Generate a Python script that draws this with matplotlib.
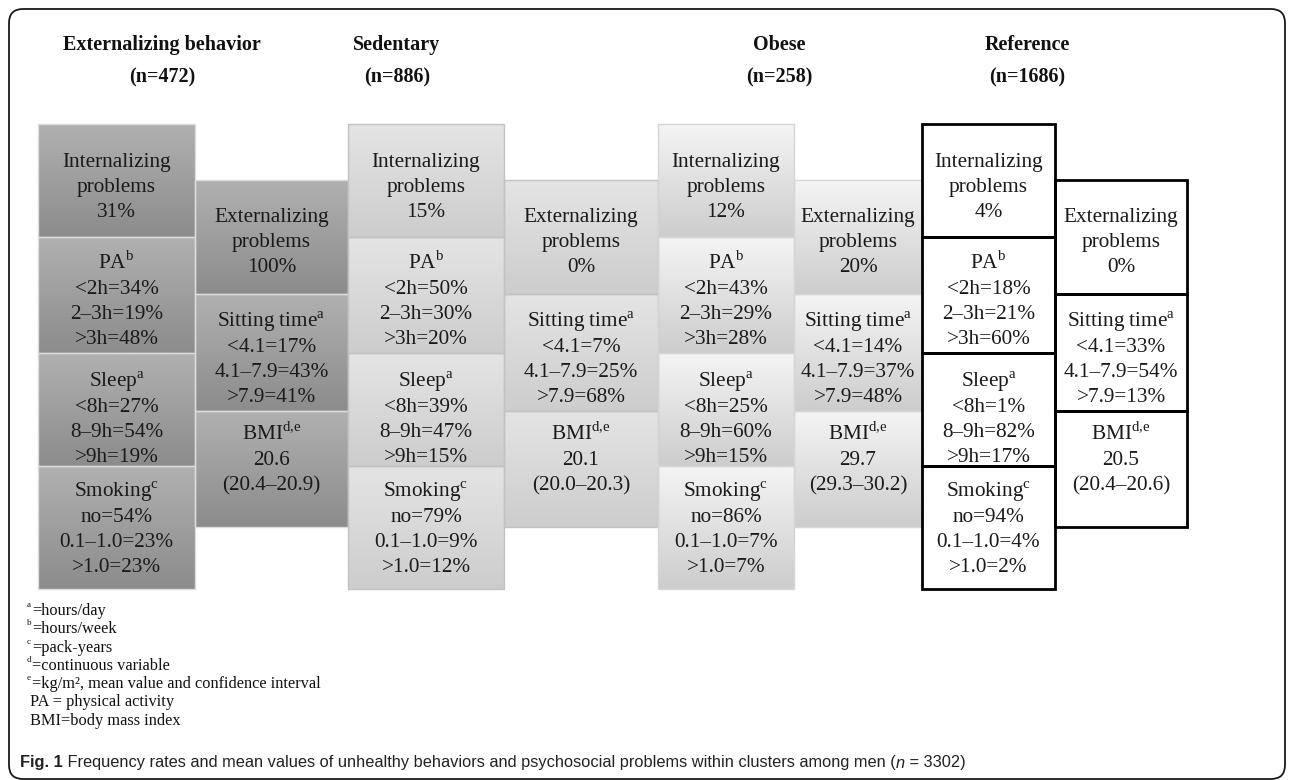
import numpy as np
import matplotlib
matplotlib.use('Agg')
import matplotlib.pyplot as plt
from matplotlib.colors import LinearSegmentedColormap
from matplotlib.patches import Rectangle, FancyBboxPatch

plt.rcParams['font.family'] = ['Liberation Serif', 'DejaVu Serif']
plt.rcParams['mathtext.fontset'] = 'custom'
plt.rcParams['mathtext.rm'] = 'Liberation Serif'

# ============ data ============ #
clusters = ['Externalizing behavior', 'Sedentary', 'Obese', 'Reference']
n_sizes = [472, 886, 258, 1686]
internalizing = [31, 15, 12, 4]
externalizing = [100, 0, 20, 0]
pa_lt2 = [34, 50, 43, 18]
pa_2to3 = [19, 30, 29, 21]
pa_gt3 = [48, 20, 28, 60]
sleep_lt8 = [27, 39, 25, 1]
sleep_8to9 = [54, 47, 60, 82]
sleep_gt9 = [19, 15, 15, 17]
smoke_no = [54, 79, 86, 94]
smoke_low = [23, 9, 7, 4]
smoke_high = [23, 12, 7, 2]
sit_lt41 = [17, 7, 14, 33]
sit_mid = [43, 25, 37, 54]
sit_gt79 = [41, 68, 48, 13]
bmi_mean = [20.6, 20.1, 29.7, 20.5]
bmi_lo = [20.4, 20.0, 29.3, 20.4]
bmi_hi = [20.9, 20.3, 30.2, 20.6]

footnotes = [('a', '=hours/day'), ('b', '=hours/week'), ('c', '=pack-years'),
             ('d', '=continuous variable'), ('e', '=kg/m², mean value and confidence interval'),
             ('', 'PA = physical activity'), ('', 'BMI=body mass index')]

# ============ layout (pixels, y downwards) ============ #
W, H = 1292, 780
left_x = [(38, 195), (348, 504), (658, 794), (922, 1055)]
right_x = [(195, 348), (504, 658), (794, 922), (1055, 1187)]
left_y = [124, 237, 353, 466, 589]
right_y = [180, 294, 411, 527]
left_pad = [36, 25, 27, 24]     # centre of first line below box top
right_pad = [35, 26, 22]
header_x = [162, 397, 779, 1027]
line_h = 25

grad = [('#b0b0b0', '#8c8c8c'), ('#e4e4e4', '#cdcdcd'), ('#f4f4f4', '#cdcdcd'), ('#ffffff', '#ffffff')]
edge = [('#dcdcdc', 1.0), ('#c2c2c2', 1.0), ('#d6d6d6', 1.0), ('#000000', 2.0)]

fig = plt.figure(figsize=(W / 100, H / 100), dpi=100)
ax = fig.add_axes([0, 0, 1, 1])
ax.set_axis_off()

# frame
ax.add_patch(FancyBboxPatch((9, 9), 1276, 770, boxstyle='round,pad=0,rounding_size=14',
                            fc='none', ec='#1a1a1a', lw=1.3, clip_on=False))


def draw_box(x0, x1, y0, y1, k, lines, pad):
    cmap = LinearSegmentedColormap.from_list('g%d' % k, grad[k])
    ax.imshow(np.linspace(0, 1, 64).reshape(-1, 1), extent=(x0, x1, y1, y0),
              cmap=cmap, aspect='auto', zorder=1, interpolation='bilinear')
    ec, lw = edge[k]
    ax.add_patch(Rectangle((x0, y0), x1 - x0, y1 - y0, fc='none', ec=ec, lw=lw, zorder=2))
    cx = (x0 + x1) / 2
    for i, s in enumerate(lines):
        ax.text(cx, y0 + pad + i * line_h + 7, s, ha='center', va='baseline',
                fontsize=15.3, color='#1a1a1a', zorder=3)


sup = lambda t: r'$^{\mathregular{%s}}$' % t

for k in range(4):
    ax.text(header_x[k], 45, clusters[k], ha='center', va='center', fontsize=14.5,
            fontweight='bold', color='#111111')
    ax.text(header_x[k], 77, '(n=%d)' % n_sizes[k], ha='center', va='center', fontsize=14.5,
            fontweight='bold', color='#111111')

    left_lines = [
        ['Internalizing', 'problems', '%d%%' % internalizing[k]],
        ['PA' + sup('b'), '<2h=%d%%' % pa_lt2[k], '2–3h=%d%%' % pa_2to3[k], '>3h=%d%%' % pa_gt3[k]],
        ['Sleep' + sup('a'), '<8h=%d%%' % sleep_lt8[k], '8–9h=%d%%' % sleep_8to9[k], '>9h=%d%%' % sleep_gt9[k]],
        ['Smoking' + sup('c'), 'no=%d%%' % smoke_no[k], '0.1–1.0=%d%%' % smoke_low[k], '>1.0=%d%%' % smoke_high[k]],
    ]
    right_lines = [
        ['Externalizing', 'problems', '%d%%' % externalizing[k]],
        ['Sitting time' + sup('a'), '<4.1=%d%%' % sit_lt41[k], '4.1–7.9=%d%%' % sit_mid[k], '>7.9=%d%%' % sit_gt79[k]],
        ['BMI' + sup('d{,}e'), '%.1f' % bmi_mean[k], '(%.1f–%.1f)' % (bmi_lo[k], bmi_hi[k])],
    ]
    for j in range(4):
        draw_box(left_x[k][0], left_x[k][1], left_y[j], left_y[j + 1], k, left_lines[j], left_pad[j])
    for j in range(3):
        draw_box(right_x[k][0], right_x[k][1], right_y[j], right_y[j + 1], k, right_lines[j], right_pad[j])

# footnotes
for i, (s, t) in enumerate(footnotes):
    y = 611 + i * 18.3
    if s:
        ax.text(27, y - 4, s, fontsize=6.5, va='baseline', ha='left', color='#111111')
        ax.text(32, y + 4, t, fontsize=11.8, va='baseline', ha='left', color='#111111')
    else:
        ax.text(30, y + 4, t, fontsize=11.8, va='baseline', ha='left', color='#111111')

# caption
ax.set_xlim(0, W)
ax.set_ylim(H, 0)
cap_font = ['Liberation Sans Narrow', 'Liberation Sans']
fig.canvas.draw()
r = fig.canvas.get_renderer()
parts = [('Fig. 1', 'bold', 'normal'),
         ' Frequency rates and mean values of unhealthy behaviors and psychosocial problems within clusters among men (',
         ('n', 'normal', 'italic'), ' = 3302)']
x = 20
inv = ax.transData.inverted()
for p in parts:
    if isinstance(p, str):
        p = (p, 'normal', 'normal')
    t = ax.text(x, 763, p[0], fontsize=11.8, fontweight=p[1], fontstyle=p[2], family=cap_font,
                va='center', ha='left', color='#222222')
    bb = t.get_window_extent(renderer=r)
    x = inv.transform((bb.x1, 0))[0]

fig.savefig('out.png', dpi=100)
